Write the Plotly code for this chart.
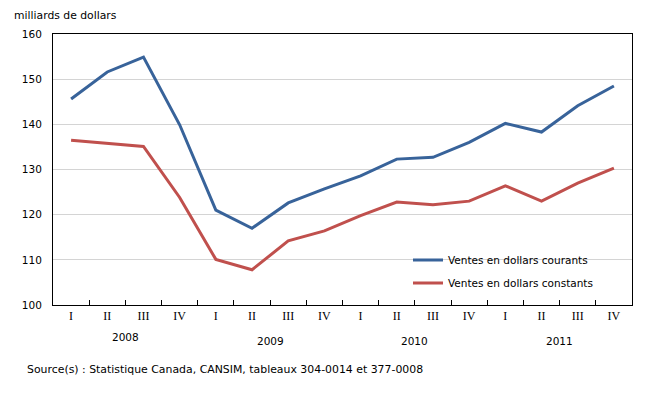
import plotly.graph_objects as go

quarters = ["I", "II", "III", "IV"] * 4
years = ["2008", "2009", "2010", "2011"]
courants = [145.6, 151.6, 154.9, 139.9, 121.0, 117.0, 122.6, 125.7, 128.6, 132.3, 132.7, 136.0,
            140.2, 138.3, 144.1, 148.5]
constants = [136.5, 135.8, 135.1, 123.8, 110.1, 107.8, 114.2, 116.4, 119.8, 122.8, 122.2, 123.0,
             126.4, 123.0, 127.0, 130.3]
yticks = [100, 110, 120, 130, 140, 150, 160]

x = list(range(len(quarters)))
SANS = "DejaVu Sans"
L, R, T, B = 53, 632, 34, 305
W, H = R - L, B - T


def px(xp):
    return (xp - L) / W


def py(yp):
    return (B - yp) / H


fig = go.Figure()
fig.add_trace(go.Scatter(x=x, y=courants, mode="lines", name="Ventes en dollars courants",
                         line=dict(color="#38639A", width=3), legend="legend"))
fig.add_trace(go.Scatter(x=x, y=constants, mode="lines", name="Ventes en dollars constants",
                         line=dict(color="#C0504D", width=3), legend="legend2"))

leg_common = dict(xanchor="left", yanchor="middle", bgcolor="rgba(0,0,0,0)",
                  font=dict(family=SANS, size=10.5), itemwidth=30, borderwidth=0)

fig.update_layout(
    width=662, height=399,
    margin=dict(l=L, r=662 - R, t=T, b=399 - B),
    paper_bgcolor="white", plot_bgcolor="white",
    font=dict(family=SANS, size=10, color="black"),
    showlegend=True,
    legend=dict(x=px(408), y=py(260), **leg_common),
    legend2=dict(x=px(408), y=py(283), **leg_common),
    xaxis=dict(range=[-0.5, 15.5], tickvals=x, ticktext=quarters, ticks="",
               tickfont=dict(family="Liberation Serif", size=12),
               showgrid=False, zeroline=False, showline=True, linecolor="black", linewidth=1,
               mirror=True,
               minor=dict(tickvals=[i + 0.5 for i in range(15)], ticks="inside", ticklen=5,
                          tickcolor="black", showgrid=False)),
    yaxis=dict(range=[100, 160], tickvals=yticks, ticks="", showgrid=True,
               gridcolor="#D4D4D4", gridwidth=1, zeroline=False,
               showline=True, linecolor="black", linewidth=1, mirror=True,
               tickfont=dict(family=SANS, size=10.5), ticklabelstandoff=8),
)

for i, yr in enumerate(years):
    fig.add_annotation(x=i * 4 + 1.5, y=py(337 if i == 0 else 341), xref="x", yref="paper",
                       text=yr, showarrow=False, yanchor="middle",
                       font=dict(family=SANS, size=10.5))

fig.add_annotation(x=px(12), y=py(15), xref="paper", yref="paper", xanchor="left",
                   yanchor="middle", text="milliards de dollars", showarrow=False,
                   font=dict(family=SANS, size=10.8))
fig.add_annotation(x=px(25), y=py(369), xref="paper", yref="paper", xanchor="left",
                   yanchor="middle",
                   text="Source(s) : Statistique Canada, CANSIM, tableaux 304-0014 et 377-0008",
                   showarrow=False, font=dict(family=SANS, size=10.9))

fig.write_html("out.html")
